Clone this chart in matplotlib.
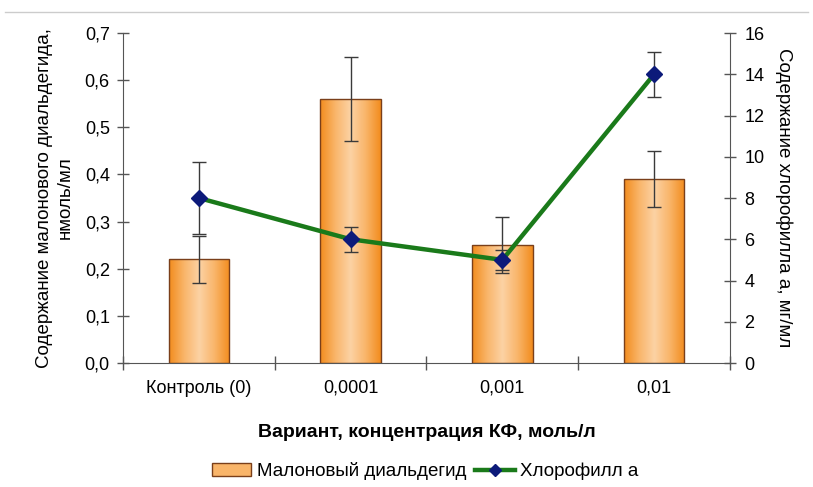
import numpy as np
import matplotlib.pyplot as plt
from matplotlib.colors import LinearSegmentedColormap
from matplotlib.lines import Line2D
from matplotlib.patches import Patch

plt.rcParams['font.family'] = ['Liberation Sans', 'DejaVu Sans']

categories = ['Контроль (0)', '0,0001', '0,001', '0,01']
mda = [0.22, 0.56, 0.25, 0.39]
mda_err = [0.05, 0.09, 0.06, 0.06]
chl = [8.0, 6.0, 5.0, 14.0]
chl_err = [1.75, 0.6, 0.5, 1.1]

left_ticks = [0.0, 0.1, 0.2, 0.3, 0.4, 0.5, 0.6, 0.7]
right_ticks = [0, 2, 4, 6, 8, 10, 12, 14, 16]

fig = plt.figure(figsize=(8.13, 4.87), dpi=100)
ax = fig.add_axes([0.1513, 0.2546, 0.7466, 0.6776])
ax2 = ax.twinx()

x = np.arange(len(categories))
bars = ax.bar(x, mda, width=0.4, facecolor='none', edgecolor='#7a3f1a',
              linewidth=1.0, zorder=3)

# horizontal gradient fill for each bar: saturated orange at the edges, pale in the middle
grad_cmap = LinearSegmentedColormap.from_list(
    'bar_grad', ['#f28c1e', '#f9b56a', '#fcd2a4', '#f9b56a', '#f28c1e'])
grad = np.linspace(0, 1, 256).reshape(1, -1)
for b in bars:
    x0, w, h = b.get_x(), b.get_width(), b.get_height()
    im = ax.imshow(grad, cmap=grad_cmap, aspect='auto',
                   extent=(x0, x0 + w, 0, h), zorder=2)
    im.set_clip_path(b)

ax.errorbar(x, mda, yerr=mda_err, fmt='none', ecolor='#3a3a3a',
            elinewidth=1.0, capsize=5, capthick=1.0, zorder=4)

ax.set_xlim(-0.5, len(categories) - 0.5)
ax.set_ylim(0, 0.7)
ax.set_yticks(left_ticks)
ax.set_yticklabels([f'{v:.1f}'.replace('.', ',') for v in left_ticks])
ax.set_xticks(x)
ax.set_xticklabels(categories)
ax.set_xticks(np.arange(len(categories) + 1) - 0.5, minor=True)
ax.tick_params(axis='x', which='major', length=0, pad=12, labelsize=13)
ax.tick_params(axis='x', which='minor', direction='inout', length=10,
               color='#555555', width=1.0)
ax.tick_params(axis='y', direction='inout', length=9, color='#555555',
               width=1.0, labelsize=13, pad=5)

for side in ['top', 'right']:
    ax.spines[side].set_visible(False)
ax.spines['left'].set_color('#555555')
ax.spines['bottom'].set_color('#555555')

ax.set_ylabel('Содержание малонового диальдегида,\nнмоль/мл', fontsize=13.5,
              labelpad=8, linespacing=1.3)
ax.set_xlabel('Вариант, концентрация КФ, моль/л', fontsize=14,
              fontweight='bold', labelpad=20)

ax2.errorbar(x, chl, yerr=chl_err, fmt='none', ecolor='#3a3a3a',
             elinewidth=1.0, capsize=5, capthick=1.0, zorder=4)
ax2.plot(x, chl, color='#1a7a1a', linewidth=3.2, marker='D',
         markersize=8, markerfacecolor='#0c1a7a', markeredgecolor='#0c1a7a',
         zorder=5)
ax2.set_ylim(0, 16)
ax2.set_yticks(right_ticks)
ax2.tick_params(axis='y', direction='inout', length=9, color='#555555',
                width=1.0, labelsize=13, pad=6)
for side in ['top', 'left', 'bottom']:
    ax2.spines[side].set_visible(False)
ax2.spines['right'].set_color('#555555')
ax2.set_ylabel('Содержание хлорофилла а, мг/мл', fontsize=13.5,
               rotation=-90, labelpad=20)

handles = [
    Patch(facecolor='#f9b56a', edgecolor='#7a3f1a', linewidth=1.0),
    Line2D([0], [0], color='#1a7a1a', linewidth=3.2, marker='D', markersize=6,
           markerfacecolor='#0c1a7a', markeredgecolor='#0c1a7a'),
]
fig.legend(handles, ['Малоновый диальдегид', 'Хлорофилл а'], loc='center',
           bbox_to_anchor=(0.523, 0.032), ncol=2, frameon=False, fontsize=13.5,
           handlelength=2.1, handletextpad=0.3, columnspacing=0.5)

fig.add_artist(Line2D([0.006, 0.994], [0.975, 0.975], color='#cccccc',
                      linewidth=1.0, transform=fig.transFigure))

fig.savefig('out.png', dpi=100)
